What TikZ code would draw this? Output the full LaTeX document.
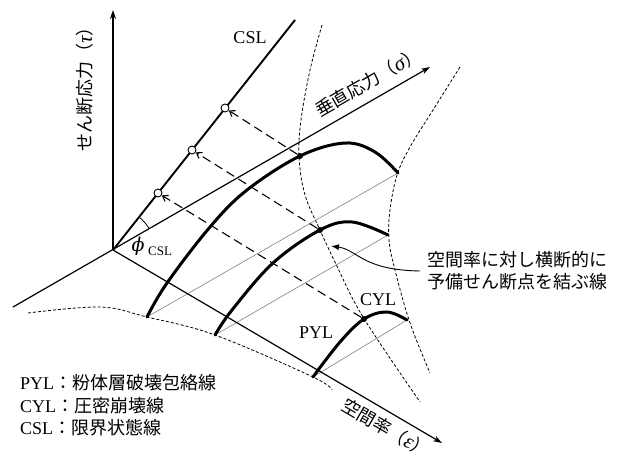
\documentclass[tikz,border=0pt]{standalone}
\usepackage{fontspec}
\setmainfont{Liberation Serif}
\newfontfamily\jp{Noto Sans CJK JP}
\newfontfamily\dvs{DejaVu Serif}
\newcommand{\grk}[1]{{\fontsize{21}{22}\selectfont\itshape #1}}
\usetikzlibrary{arrows.meta}
\begin{document}
\begin{tikzpicture}[x=1pt,y=-1pt,
  axis/.style={line width=1.2pt, -{Stealth[length=9pt,width=6pt]}},
  csl/.style={line width=1.9pt},
  yl/.style={line width=3pt, line cap=round},
  guide/.style={gray, line width=0.6pt},
  dotline/.style={line width=0.8pt, dash pattern=on 3pt off 2pt},
  dashline/.style={line width=1.1pt, dash pattern=on 9pt off 5pt},
  opendot/.style={circle, draw, line width=0.9pt, fill=white, inner sep=0pt, minimum size=8pt},
  soliddot/.style={circle, fill, inner sep=0pt, minimum size=6pt},
  lbl/.style={font=\fontsize{18}{22}\selectfont, inner sep=0pt},
]
\useasboundingbox (0,0) rectangle (628,461);

% key points
\coordinate (O) at (113,250);
\coordinate (tauTip) at (113,10);
\coordinate (sigStart) at (13,307);
\coordinate (sigTip) at (430,67);
\coordinate (epsTip) at (442,443);
\coordinate (cslEnd) at (295,20);

% dotted envelopes
\draw[dotline] plot[smooth, tension=0.6] coordinates {(28,313) (100,307) (147,317) (215,335) (313,377) (332,390)};
\draw[dotline] plot[smooth, tension=0.6] coordinates {(322,25) (310,70) (301,120) (299,157) (305,195) (320,230) (335,262) (363,317) (420,402)};
\draw[dotline] plot[smooth, tension=0.6] coordinates {(460,67) (433,110) (410,147) (397,175) (390,210) (389,240) (395,270) (410,323) (430,373)};

% thin guide lines
\draw[guide] (147,317) -- (398,173);
\draw[guide] (215,335) -- (388,235);
\draw[guide] (313,377) -- (407,320);

% axes
\draw[axis] (O) -- (tauTip);
\draw[axis] (sigStart) -- (sigTip);
\draw[axis] (O) -- (epsTip);
\draw[csl] (O) -- (cslEnd);

% angle arc
\draw[line width=0.8pt] (139,217) arc[start angle=-51.6, end angle=-30, radius=42];

% yield curves
\draw[yl] plot[smooth, tension=0.6] coordinates {(147,317) (167,283) (210,227) (247,190) (300,156) (345,143) (375,152) (398,173)};
\draw[yl] plot[smooth, tension=0.6] coordinates {(215,335) (232,310) (273,263) (320,230) (352,222) (388,235)};
\draw[yl] plot[smooth, tension=0.6] coordinates {(313,377) (340,342) (364,319) (387,312) (407,320)};

% points
\node[opendot] (c1) at (225,108) {};
\node[opendot] (c2) at (192,150) {};
\node[opendot] (c3) at (158,193) {};
\node[soliddot] (d1) at (300,156) {};
\node[soliddot] (d2) at (320,230) {};
\node[soliddot] (d3) at (364,319) {};

\draw[dashline, -{Straight Barb[length=5pt,width=7pt]}] (d1) -- (c1);
\draw[dashline, -{Straight Barb[length=5pt,width=7pt]}] (d2) -- (c2);
\draw[dashline, -{Straight Barb[length=5pt,width=7pt]}] (d3) -- (c3);

% labels
\node[lbl] (lcsl) at (250,38) {CSL};
\node[lbl] (lcyl) at (378,300) {CYL};
\node[lbl] (lpyl) at (316,333) {PYL};
\node[inner sep=0pt, font=\fontsize{19}{22}\selectfont] (lphi) at (138,246) {\dvs\itshape ϕ};
\node[inner sep=0pt, font=\fontsize{13}{15}\selectfont, anchor=west] (lphisub) at (148,251) {CSL};

\node[lbl, rotate=90] (ltau) at (85,85) {{\jp せん断応力（}\grk{τ}{\jp ）}};
\node[lbl, rotate=30] (lsig) at (368,82) {{\jp 垂直応力（}\grk{σ}{\jp ）}};
\node[lbl, rotate=-30] (leps) at (386,428) {{\jp 空間率（}\grk{ε}{\jp ）}};

\node[lbl, anchor=west, align=left] (anno) at (427,271) {\jp 空間率に対し横断的に\\\jp 予備せん断点を結ぶ線};
\coordinate (annoStart) at (420,271);
\draw[line width=0.9pt, -{Latex[length=8pt,width=6pt]}] (annoStart) .. controls (362,270) and (358,250) .. (331,246);

\node[lbl, anchor=west] (leg1) at (20,383) {PYL{\jp ：粉体層破壊包絡線}};
\node[lbl, anchor=west] (leg2) at (20,406) {CYL{\jp ：圧密崩壊線}};
\node[lbl, anchor=west] (leg3) at (20,428) {CSL{\jp ：限界状態線}};
\end{tikzpicture}
\end{document}
